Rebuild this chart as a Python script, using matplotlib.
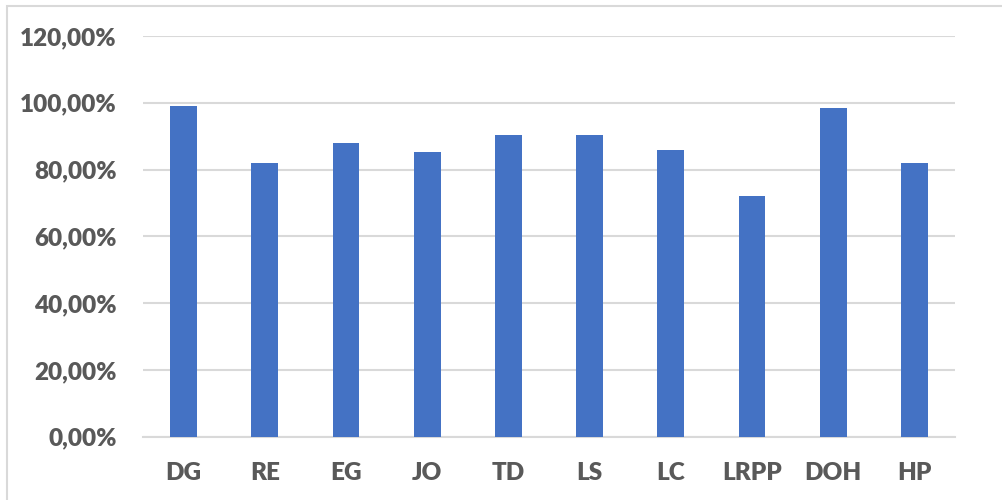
import matplotlib.pyplot as plt
from matplotlib.patches import Rectangle
from matplotlib.ticker import FuncFormatter

# data (percent)
categories = ['DG', 'RE', 'EG', 'JO', 'TD', 'LS', 'LC', 'LRPP', 'DOH', 'HP']
values = [99.1, 81.9, 87.9, 85.3, 90.5, 90.5, 86.0, 72.0, 98.5, 81.9]
yticks = [0, 20, 40, 60, 80, 100, 120]

plt.rcParams['font.family'] = ['Lato', 'DejaVu Sans']
grey_text = '#595959'
grid_col = '#d9d9d9'

fig = plt.figure(figsize=(10.02, 5.0), dpi=100)
ax = fig.add_axes([143 / 1002, 1 - 436.8 / 500, 812 / 1002, 400.8 / 500])

x = range(len(categories))
ax.bar(x, values, width=0.33, color='#4472C4', zorder=3)

ax.set_xlim(-0.5, len(categories) - 0.5)
ax.set_ylim(0, 120)
ax.set_yticks(yticks)
ax.yaxis.set_major_formatter(FuncFormatter(lambda v, p: '{:.2f}%'.format(v).replace('.', ',')))
ax.set_xticks(list(x))
ax.set_xticklabels(categories)

ax.grid(axis='y', color=grid_col, linewidth=1.5, zorder=0)
for s in ['top', 'right', 'left']:
    ax.spines[s].set_visible(False)
ax.spines['bottom'].set_color(grid_col)
ax.spines['bottom'].set_linewidth(1.5)
ax.tick_params(axis='both', length=0, labelsize=17.5, labelcolor=grey_text)
ax.tick_params(axis='y', pad=19)
ax.tick_params(axis='x', pad=18)
for lbl in ax.get_xticklabels() + ax.get_yticklabels():
    lbl.set_fontweight('heavy')

# chart border (cut off at right and bottom)
fig.patches.append(Rectangle((7 / 1002, -0.1), 1.2, (500 - 6) / 500 + 0.1,
                             transform=fig.transFigure, fill=False,
                             edgecolor=grid_col, linewidth=1.5))

fig.savefig('out.png', dpi=100)
